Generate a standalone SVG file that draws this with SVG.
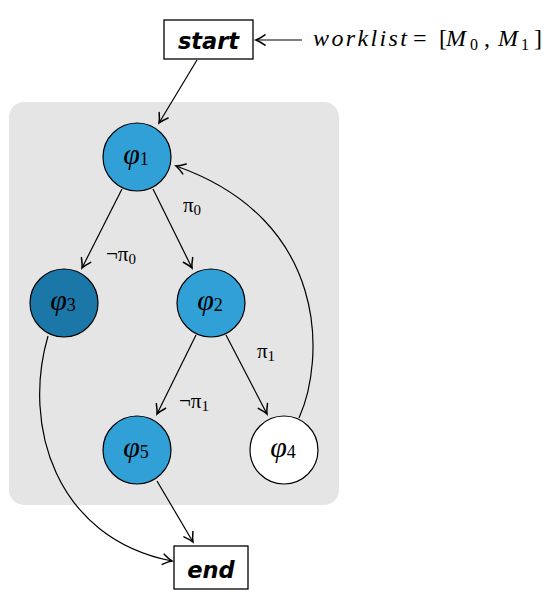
<svg xmlns="http://www.w3.org/2000/svg" width="557" height="599" viewBox="0 0 557 599">
<style>
.box{fill:#fff;stroke:#000;stroke-width:1.3}
.kw{font-family:"DejaVu Sans",sans-serif;font-weight:bold;font-style:italic;font-size:22.5px;text-anchor:middle}
.nd{stroke:#000;stroke-width:1.2}
.blue{fill:#30a0d6}
.dark{fill:#1a77a8}
.white{fill:#fff}
.math{font-family:"Liberation Serif","DejaVu Serif",serif;fill:#000}
.nl{text-anchor:middle}
.phi{font-style:italic;font-size:30px}
.sub{font-size:18px;font-style:normal}
.lbl{font-size:21px}
.lsub{font-size:15px}
.wl{font-size:24px}
.wsub{font-size:16px}
.edge{fill:none;stroke:#000;stroke-width:1.2;marker-end:url(#ah)}
</style>
<defs>
<marker id="ah" markerUnits="userSpaceOnUse" markerWidth="16" markerHeight="16" viewBox="-11 -8 13 16" refX="0" refY="0" orient="auto">
<path d="M-9,-5.2 Q-3.5,-1.3 0,0 Q-3.5,1.3 -9,5.2" fill="none" stroke="#000" stroke-width="1.5" stroke-linecap="round"/>
</marker>
</defs>
<rect x="9" y="102" width="330" height="403" rx="15" fill="#e5e5e5"/>
<g id="connectors">
<line class="edge" x1="302" y1="40" x2="256" y2="40"/>
<line class="edge" x1="197" y1="60" x2="159" y2="123"/>
<line class="edge" x1="122" y1="189" x2="82" y2="268"/>
<line class="edge" x1="153" y1="189" x2="192" y2="268"/>
<line class="edge" x1="196" y1="335" x2="157" y2="414"/>
<line class="edge" x1="226" y1="335" x2="267" y2="414"/>
<path class="edge" d="M299,418 C325,360 330,220 176,166"/>
<path class="edge" d="M48,336 C22,425 55,538 172,561"/>
<line class="edge" x1="157" y1="481" x2="193" y2="542"/>
</g>
<g id="start">
<rect class="box" x="164" y="20" width="89" height="39"/>
<text class="kw" x="208.5" y="49">start</text>
</g>
<g id="end">
<rect class="box" x="174" y="546" width="74" height="43"/>
<text class="kw" x="211" y="578">end</text>
</g>
<g id="worklist">
<text class="math wl" y="46"><tspan x="313" font-style="italic" textLength="94" lengthAdjust="spacing">worklist</tspan><tspan x="413">=</tspan><tspan x="439">[</tspan><tspan x="446" font-style="italic">M</tspan><tspan class="wsub" x="470" y="50">0</tspan><tspan x="484" y="46">,</tspan><tspan x="498" font-style="italic">M</tspan><tspan class="wsub" x="521" y="50">1</tspan><tspan x="534" y="46">]</tspan></text>
</g>
<g id="phi1">
<circle class="nd blue" cx="137" cy="157" r="34"/>
<text class="math nl" x="136" y="164"><tspan class="phi">φ</tspan><tspan class="sub" dy="1">1</tspan></text>
</g>
<g id="phi2">
<circle class="nd blue" cx="211" cy="303" r="34"/>
<text class="math nl" x="210" y="310"><tspan class="phi">φ</tspan><tspan class="sub" dy="1">2</tspan></text>
</g>
<g id="phi3">
<circle class="nd dark" cx="64" cy="303" r="34"/>
<text class="math nl" x="63" y="310"><tspan class="phi">φ</tspan><tspan class="sub" dy="1">3</tspan></text>
</g>
<g id="phi4">
<circle class="nd white" cx="284" cy="450" r="34"/>
<text class="math nl" x="283" y="457"><tspan class="phi">φ</tspan><tspan class="sub" dy="1">4</tspan></text>
</g>
<g id="phi5">
<circle class="nd blue" cx="137" cy="450" r="34"/>
<text class="math nl" x="136" y="457"><tspan class="phi">φ</tspan><tspan class="sub" dy="1">5</tspan></text>
</g>
<g id="labels">
<text class="math lbl" x="183" y="212">π<tspan class="lsub" dy="3">0</tspan></text>
<text class="math lbl" x="106" y="261">¬π<tspan class="lsub" dy="3">0</tspan></text>
<text class="math lbl" x="257" y="358">π<tspan class="lsub" dy="3">1</tspan></text>
<text class="math lbl" x="179" y="408">¬π<tspan class="lsub" dy="3">1</tspan></text>
</g>
</svg>
